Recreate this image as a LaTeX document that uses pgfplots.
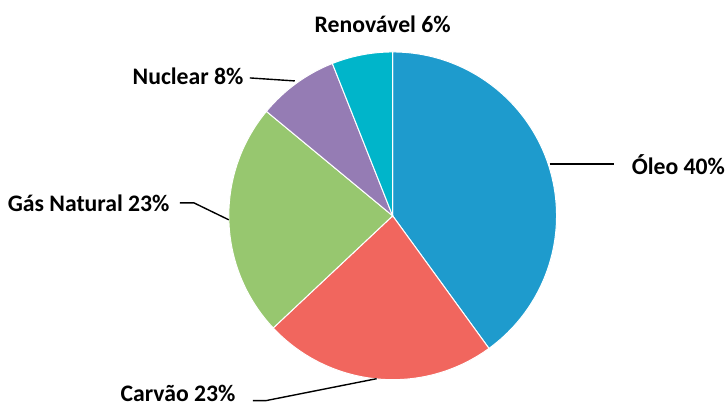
\documentclass[border=0pt]{standalone}
\usepackage{fontspec}
\setmainfont{Carlito}
\usepackage{pgfplots}
\usepackage{pgfplotstable}
\pgfplotsset{compat=1.18}

\definecolor{oleo}{HTML}{1E9BCD}
\definecolor{carvao}{HTML}{F1665E}
\definecolor{gas}{HTML}{97C76F}
\definecolor{nuclear}{HTML}{957CB4}
\definecolor{renov}{HTML}{00B5CA}

\pgfplotstableread{
label value
Oleo 40
Carvao 23
Gas 23
Nuclear 8
Renovavel 6
}\shares

\tikzset{lbl/.style={font=\fontsize{11.9}{14}\selectfont\bfseries, text=black, inner sep=0pt}}

\begin{document}
\begin{tikzpicture}
% cumulative angles, clockwise from the top
\pgfplotstablegetelem{0}{value}\of\shares \let\vA\pgfplotsretval
\pgfplotstablegetelem{1}{value}\of\shares \let\vB\pgfplotsretval
\pgfplotstablegetelem{2}{value}\of\shares \let\vC\pgfplotsretval
\pgfplotstablegetelem{3}{value}\of\shares \let\vD\pgfplotsretval
\pgfplotstablegetelem{4}{value}\of\shares \let\vE\pgfplotsretval
\pgfmathsetmacro\aA{90}
\pgfmathsetmacro\aB{\aA-3.6*\vA}
\pgfmathsetmacro\aC{\aB-3.6*\vB}
\pgfmathsetmacro\aD{\aC-3.6*\vC}
\pgfmathsetmacro\aE{\aD-3.6*\vD}
\pgfmathsetmacro\aF{\aE-3.6*\vE}
\def\R{82bp}
\begin{axis}[
    width=362.5bp, height=202.5bp, scale only axis,
    xmin=0, xmax=725, ymin=0, ymax=405, y dir=reverse,
    hide axis, clip=false,
  ]
\addplot[draw=none] coordinates {(393,216)};
\path (axis cs:0,0) rectangle (axis cs:725,405);
\fill[oleo,draw=white,line width=0.5pt] (axis cs:393,216) -- ++(\aA:\R) arc[start angle=\aA,end angle=\aB,radius=\R] -- cycle;
\fill[carvao,draw=white,line width=0.5pt] (axis cs:393,216) -- ++(\aB:\R) arc[start angle=\aB,end angle=\aC,radius=\R] -- cycle;
\fill[gas,draw=white,line width=0.5pt] (axis cs:393,216) -- ++(\aC:\R) arc[start angle=\aC,end angle=\aD,radius=\R] -- cycle;
\fill[nuclear,draw=white,line width=0.5pt] (axis cs:393,216) -- ++(\aD:\R) arc[start angle=\aD,end angle=\aE,radius=\R] -- cycle;
\fill[renov,draw=white,line width=0.5pt] (axis cs:393,216) -- ++(\aE:\R) arc[start angle=\aE,end angle=\aF,radius=\R] -- cycle;

% leader lines
\draw[black,line width=0.7pt] (axis cs:550,164) -- (axis cs:615,164);
\draw[black,line width=0.7pt] (axis cs:180,203) -- (axis cs:194,203) -- (axis cs:229,220);
\draw[black,line width=0.7pt] (axis cs:250,78) -- (axis cs:295,81);
\draw[black,line width=0.7pt] (axis cs:253,401) -- (axis cs:266,401) -- (axis cs:377,379);

% labels
\node[lbl,anchor=center] at (axis cs:383,24) {Renovável 6\%};
\node[lbl,anchor=west] at (axis cs:632,165) {Óleo 40\%};
\node[lbl,anchor=east] at (axis cs:170,203) {Gás Natural 23\%};
\node[lbl,anchor=east] at (axis cs:244,76) {Nuclear 8\%};
\node[lbl,anchor=east] at (axis cs:236,394) {Carvão 23\%};
\end{axis}
\end{tikzpicture}
\end{document}
